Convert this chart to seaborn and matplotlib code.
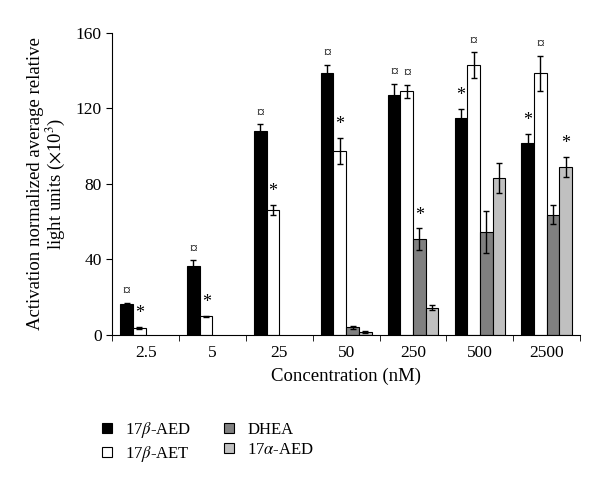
import numpy as np
import pandas as pd
import matplotlib.pyplot as plt
import seaborn as sns
from matplotlib.patches import Patch

concentrations = ["2.5", "5", "25", "50", "250", "500", "2500"]
compounds = ["17$\\beta$-AED", "17$\\beta$-AET", "DHEA", "17$\\alpha$-AED"]
colors = ["#000000", "#ffffff", "#808080", "#c0c0c0"]

# mean activation (x10^3), None where not measured
aed_b = [16.4, 36.6, 108.2, 138.6, 126.8, 115.1, 101.9]
aet_b = [3.9, 10.0, 66.2, 97.5, 129.0, 142.9, 138.6]
dhea = [None, None, None, 4.1, 50.7, 54.4, 63.6]
aed_a = [None, None, None, 1.4, 14.5, 83.2, 89.0]

aed_b_err = [0.5, 3.0, 3.4, 4.4, 6.0, 4.6, 4.4]
aet_b_err = [0.5, 0.3, 2.7, 7.0, 3.4, 6.7, 9.2]
dhea_err = [None, None, None, 0.8, 5.8, 11.0, 5.1]
aed_a_err = [None, None, None, 0.5, 1.3, 7.8, 5.2]

# significance marks above bars
aed_b_mark = ["¤", "¤", "¤", "¤", "¤", "*", "*"]
aet_b_mark = ["*", "*", "*", "*", "¤", "¤", "¤"]
dhea_mark = ["", "", "", "", "*", "", ""]
aed_a_mark = ["", "", "", "", "", "", "*"]

rows = []
for name, vals, errs, marks in zip(compounds,
                                   [aed_b, aet_b, dhea, aed_a],
                                   [aed_b_err, aet_b_err, dhea_err, aed_a_err],
                                   [aed_b_mark, aet_b_mark, dhea_mark, aed_a_mark]):
    for c, v, e, m in zip(concentrations, vals, errs, marks):
        if v is not None:
            rows.append({"conc": c, "compound": name, "value": v, "err": e, "mark": m})
df = pd.DataFrame(rows)

plt.rcParams["font.family"] = ["Liberation Serif", "DejaVu Serif"]
plt.rcParams["mathtext.fontset"] = "stix"

fig = plt.figure(figsize=(6, 4.82), dpi=100)
ax = fig.add_axes([0.187, 0.305, 0.78, 0.627])

sns.barplot(data=df, x="conc", y="value", hue="compound", order=concentrations,
            hue_order=compounds, palette=colors, edgecolor="black", linewidth=0.8,
            width=0.76, errorbar=None, legend=False, ax=ax)

# error bars and marks, matched to bars by position
nh = len(compounds)
for p in ax.patches:
    cx = p.get_x() + p.get_width() / 2
    h = p.get_height()
    ci = int(round(cx))
    hi = int(round((cx - ci) / (0.76 / nh) + (nh - 1) / 2))
    sel = df[(df.conc == concentrations[ci]) & (df.compound == compounds[hi])]
    if sel.empty:
        continue
    e = sel.err.iloc[0]
    ax.errorbar(cx, h, yerr=e, color="black", capsize=2.5, elinewidth=1, capthick=1)
    m = sel.mark.iloc[0]
    if m:
        ax.text(cx, h + e + 2.5, m, ha="center", va="bottom", fontsize=13 if m == "*" else 11)

ax.set_ylim(0, 160)
ax.set_yticks([0, 40, 80, 120, 160])
ax.set_xlim(-0.5, len(concentrations) - 0.5)
ax.set_xticks(np.arange(-0.5, len(concentrations)), minor=True)
ax.tick_params(axis="x", which="major", length=0, pad=7, labelsize=12.5)
ax.tick_params(axis="x", which="minor", length=4, direction="out")
ax.tick_params(axis="y", length=4, direction="out", labelsize=12.5)
for s in ["top", "right"]:
    ax.spines[s].set_visible(False)
ax.set_xlabel("Concentration (nM)", fontsize=13.5, labelpad=5)
ax.set_ylabel("Activation normalized average relative\nlight units ($\\times$10$^3$)", fontsize=13.5,
              labelpad=6, linespacing=1.0)

handles = [Patch(facecolor=c, edgecolor="black", linewidth=0.8) for c in colors]
fig.legend(handles, compounds, loc="upper left", bbox_to_anchor=(0.145, 0.16), ncol=2,
           frameon=False, fontsize=12, handlelength=0.6, handleheight=0.6,
           handletextpad=0.8, columnspacing=1.95, labelspacing=0.25)

fig.savefig("out.png", dpi=100)
